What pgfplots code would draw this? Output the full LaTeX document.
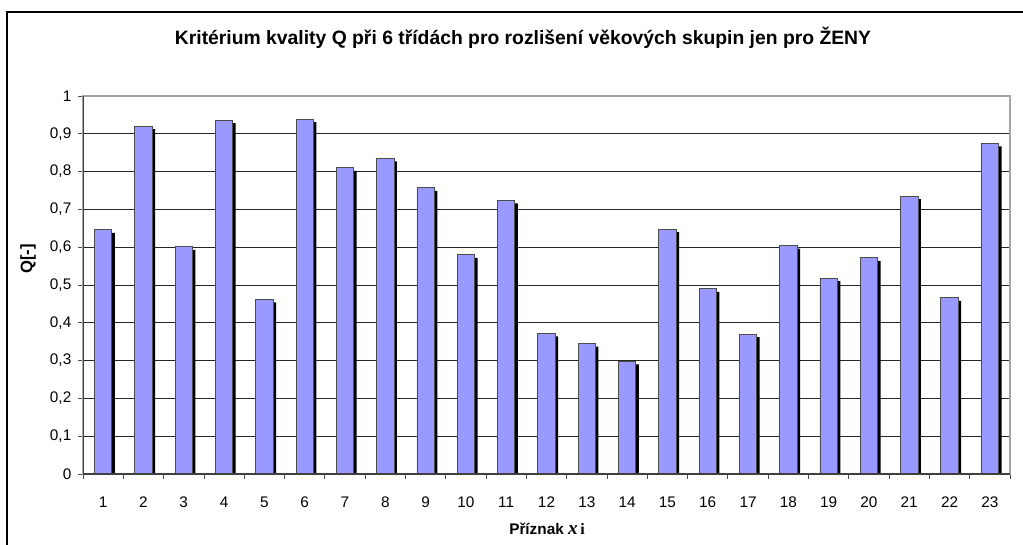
\documentclass[border=0pt]{standalone}
\usepackage{fontspec}
\setmainfont{Liberation Sans}
\newfontfamily\serif{Liberation Serif}
\usepackage{pgfplots}
\usepackage{pgfplotstable}
\pgfplotsset{compat=1.18}
\definecolor{barblue}{HTML}{9999FF}

\pgfplotstableread{
k q
1 0.646
2 0.920
3 0.601
4 0.936
5 0.462
6 0.939
7 0.810
8 0.835
9 0.757
10 0.580
11 0.724
12 0.372
13 0.345
14 0.298
15 0.648
16 0.490
17 0.370
18 0.604
19 0.518
20 0.572
21 0.735
22 0.466
23 0.875
}\qdata

\begin{document}
\begin{tikzpicture}[x=0.75pt,y=0.75pt]
\useasboundingbox (0,0) rectangle (1023,544);
\draw[line width=1.1pt] (7,-5) -- (7,532) -- (1030,532);
\node[font=\bfseries\fontsize{14.5}{16}\selectfont] at (523,506)
  {Kritérium kvality Q při 6 třídách pro rozlišení věkových skupin jen pro ŽENY};
\node[font=\bfseries\fontsize{12.5}{14}\selectfont, rotate=90] at (28,285) {Q[-]};
\node[font=\fontsize{11.5}{13}\selectfont, anchor=base] at (547,10)
  {\bfseries Příznak {\serif\bfseries\itshape\fontsize{14.5}{15}\selectfont x}\,{\serif\bfseries\fontsize{12}{12}\selectfont i}};
\begin{axis}[
    at={(62.25pt,52.5pt)}, anchor=south west,
    scale only axis, width=695.25pt, height=283.5pt,
    xmin=0.5, xmax=23.5, ymin=0, ymax=1,
    xtick={1,...,23},
    minor xtick={0.5,1.5,...,23.5},
    ytick={0,0.1,0.2,0.3,0.4,0.5,0.6,0.7,0.8,0.9,1},
    yticklabels={0,{0,1},{0,2},{0,3},{0,4},{0,5},{0,6},{0,7},{0,8},{0,9},1},
    xtick pos=bottom, ytick pos=left,
    ymajorgrids=true,
    grid style={black!85, line width=0.6pt},
    axis line style={gray!70, line width=0.8pt},
    tick align=outside,
    major tick length=3.75pt,
    minor tick length=3.75pt,
    tick style={black!70, line width=0.6pt},
    every major x tick/.append style={draw=none},
    ticklabel style={font=\fontsize{11.5}{13}\selectfont},
    xticklabel style={anchor=base, yshift=-21pt},
    yticklabel style={xshift=-1.5pt},
    /pgf/number format/assume math mode=true,
    clip=true,
]
\addplot[ybar, bar width=13pt, bar shift=0pt, fill=black, draw=none,
    xshift=2.25pt, yshift=-2.25pt] table[x=k,y=q]{\qdata};
\addplot[ybar, bar width=13pt, bar shift=0pt, fill=barblue, draw=black!70,
    line width=0.6pt] table[x=k,y=q]{\qdata};
\draw[black!75, line width=0.8pt] (rel axis cs:0,1) -- (rel axis cs:0,0) -- (rel axis cs:1,0);
\end{axis}
\end{tikzpicture}
\end{document}
